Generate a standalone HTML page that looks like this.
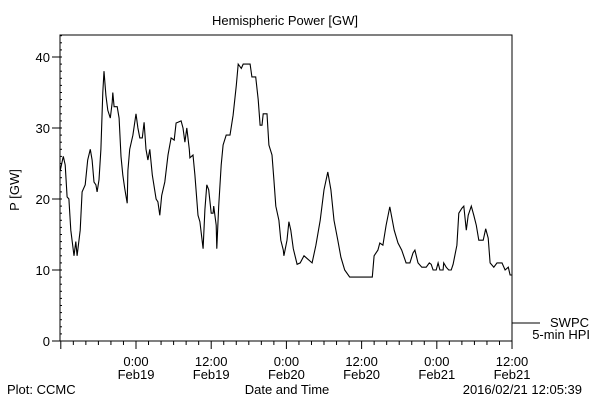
<!DOCTYPE html>
<html><head><meta charset="utf-8"><style>
html,body{margin:0;padding:0;background:#fff}
svg{display:block}
text{font-family:"Liberation Sans",sans-serif;font-size:13px;fill:#000}
</style></head><body>
<svg id="chart" width="600" height="400" viewBox="0 0 600 400">
<text x="285" y="25" text-anchor="middle" font-size="14">Hemispheric Power [GW]</text>
<text transform="translate(19,190) rotate(-90)" text-anchor="middle">P [GW]</text>
<text x="287" y="394" text-anchor="middle">Date and Time</text>
<text x="7" y="394">Plot: CCMC</text>
<text x="582" y="394" text-anchor="end">2016/02/21 12:05:39</text>
<line x1="512" y1="323" x2="540" y2="323" stroke="#000"/>
<text x="589" y="327" text-anchor="end">SWPC</text>
<text x="590" y="339" text-anchor="end">5-min HPI</text>
<g id="axes"></g>
<g id="series"></g>
</svg>
<script>
// hours relative to Feb19 0:00
const times=[-12.1,-11.6,-11.3,-11.0,-10.7,-10.4,-9.9,-9.6,-9.4,-8.9,-8.6,-8.1,-7.7,-7.3,-7.0,-6.7,-6.4,-6.2,-5.9,-5.6,-5.3,-5.1,-4.8,-4.5,-4.1,-3.8,-3.7,-3.5,-3.0,-2.7,-2.4,-2.1,-1.8,-1.4,-1.3,-1.0,-0.5,0,0.3,0.6,1.0,1.3,1.6,1.9,2.2,2.6,3.2,3.5,3.8,4.1,4.6,5.1,5.6,6.1,6.4,6.7,7.2,7.5,7.8,8.1,8.5,8.6,9.1,9.4,9.9,10.2,10.7,11.0,11.3,11.6,12.0,12.3,12.4,12.8,12.9,13.2,13.6,13.9,14.4,15.0,15.5,16.0,16.3,16.8,17.1,18.2,18.5,19.1,19.5,19.8,20.1,20.3,20.9,21.2,21.7,22.0,22.3,22.8,23.1,23.5,23.6,24.1,24.4,24.7,25.1,25.7,26.2,26.8,28.1,28.7,29.4,30.0,30.6,31.1,31.6,32.2,32.7,33.3,34.1,37.7,38.0,38.6,38.9,39.4,39.9,40.5,41.2,41.8,42.4,43.1,43.7,44.2,44.5,45.0,45.6,46.3,46.8,47.1,47.4,47.9,48.2,48.5,49.0,49.1,49.5,49.9,50.3,50.6,51.2,51.5,52.0,52.3,52.7,53.0,53.5,53.9,54.3,54.7,55.4,55.8,56.2,56.5,57.1,57.6,58.4,58.9,59.4,59.7,60.0];
const power=[24,26,24.8,20.3,20,15.6,12,14,12,15.6,21,22,25.5,27,25.5,22.4,22,21,22.7,27,35,38,34.6,32.5,31.4,33.6,35,33,33,31.4,26,23.4,21.5,19.4,24,27,29,32,30,28.6,28.6,30.8,27,25.5,27,23.4,20,19.6,17.7,20.5,22.4,26.2,28.6,28.3,30.7,30.8,31,30,28,30,27,25.8,26.2,23.4,17.7,16.8,13,18.5,22,21.3,18,18,19,16.3,13,19,24.8,27.6,29,29,31.8,36,39,38.4,39,39,37.2,37.2,34,30.4,30.4,32,32,27.6,26.2,22.7,19,17,14.2,12.8,12,14.2,16.8,15.6,13,10.8,11,12,11,13.5,17,21.3,23.8,21.3,17,14.2,11.8,10,9,9,12,12.8,13.8,13.5,16.3,18.9,15.6,13.8,12.8,11,11,12.4,12.8,11,10.4,10.4,11,10.8,10,10,11,10,10,11,10.4,10,10,10.8,13.5,18,18.7,19,15.6,17.7,19,17.7,16.3,14.2,14.2,15.8,14.5,11,10.4,11,11,10,10.4,9.3,9.3];
const yTickLabels=["0","10","20","30","40"];
const xTickHours=[0,12,24,36,48,60];
const xTickTimes=["0:00","12:00","0:00","12:00","0:00","12:00"];
const xTickDates=["Feb19","Feb19","Feb20","Feb20","Feb21","Feb21"];

const L=60,R=512,T=35,B=341;
const x0=136,pxPerHr=6.267;
const X=h=>x0+h*pxPerHr;
const Y=v=>B-v*7.1;
const NS="http://www.w3.org/2000/svg";
const axes=document.getElementById('axes');
function mk(tag,attrs,parent){const e=document.createElementNS(NS,tag);for(const k in attrs)e.setAttribute(k,attrs[k]);parent.appendChild(e);return e;}
const frame=mk('rect',{x:L,y:T,width:R-L,height:B-T,fill:'none',stroke:'#000','stroke-width':1},axes);


for(let v=0;v<=43;v++){
  const y=Y(v);
  const major=v%10===0;
  const t=mk('line',{x1:major?L-8:L,y1:y,x2:L+2,y2:y,stroke:'#000'},axes);
  
  
}
yTickLabels.forEach(s=>{
  const tx=mk('text',{x:L-10,y:Y(+s)+5,'text-anchor':'end'},axes);tx.textContent=s;
  
  
});
for(let h=-12;h<=60;h+=2){
  const x=X(h);
  if(x<L)continue;
  const major=h%12===0;
  const t=mk('line',{x1:x,y1:B,x2:x,y2:B+(major?8:4),stroke:'#000'},axes);
  
  
}
xTickHours.forEach((h,i)=>{
  const a=mk('text',{x:X(h),y:B+25,'text-anchor':'middle'},axes);a.textContent=xTickTimes[i];
  
  
  const b=mk('text',{x:X(h),y:B+38,'text-anchor':'middle'},axes);b.textContent=xTickDates[i];
  
  
});
const pts=times.map((h,i)=>Math.max(L,X(h)).toFixed(1)+','+Y(power[i]).toFixed(1)).join(' ');
const line=mk('polyline',{points:pts,fill:'none',stroke:'#000','stroke-width':1.1},document.getElementById('series'));


</script>
</body></html>
